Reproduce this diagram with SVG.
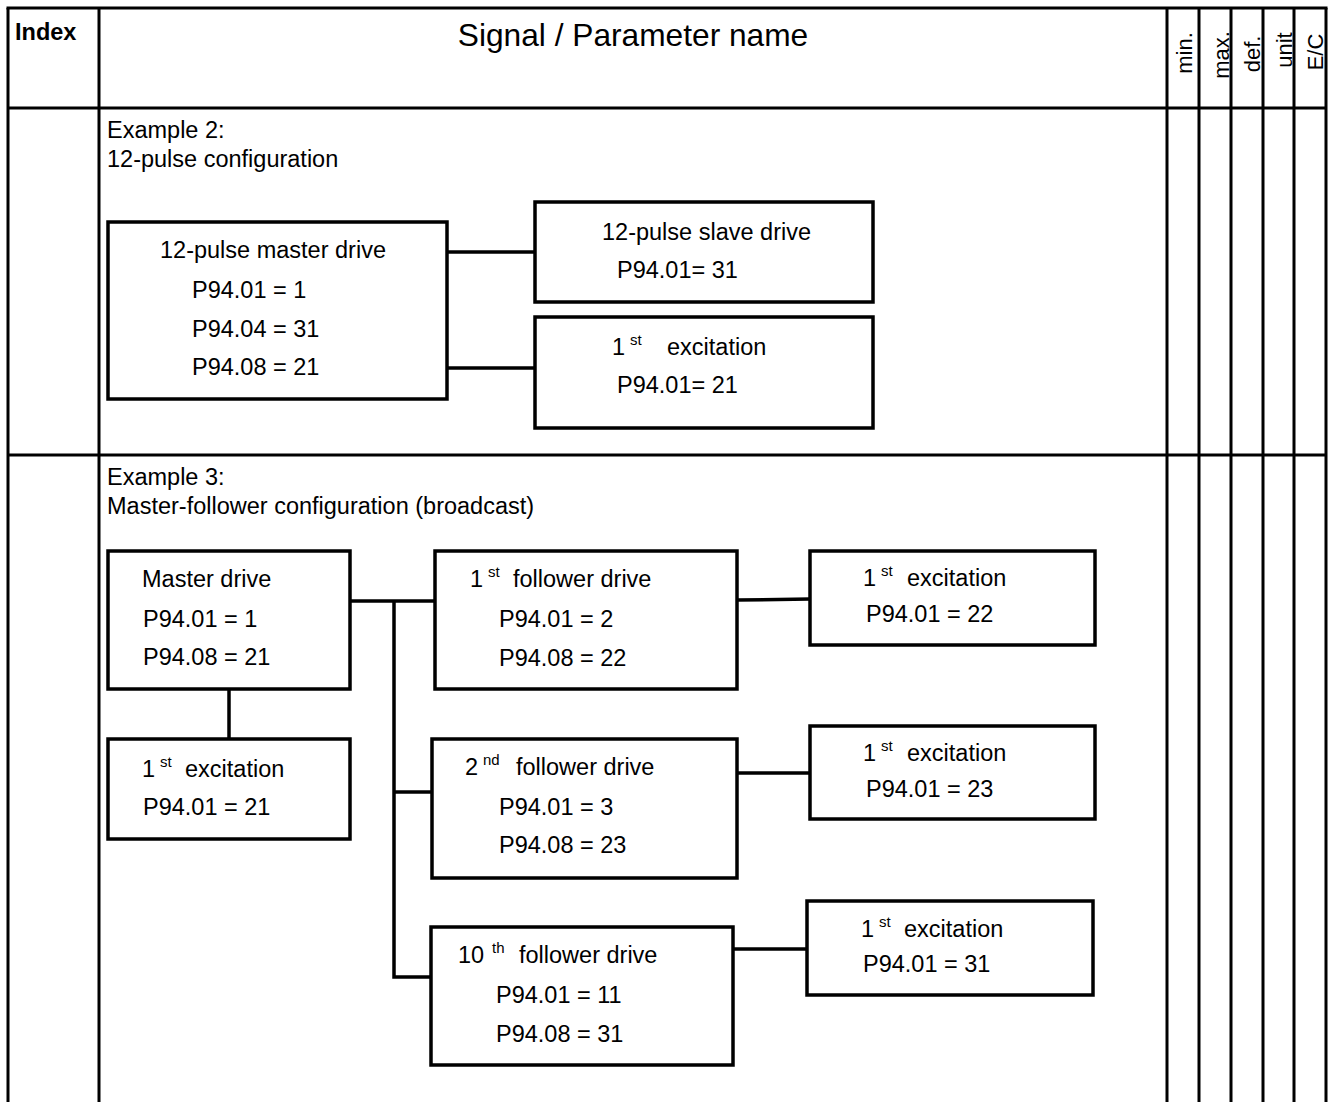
<svg xmlns="http://www.w3.org/2000/svg" width="1335" height="1102" viewBox="0 0 1335 1102">
  <style>
    text { font-family: "Liberation Sans", Arial, sans-serif; fill: #000; }
    .t { font-size: 23.5px; }
    .sup { font-size: 15px; }
    .hd { font-size: 31.7px; }
    .idx { font-size: 23.5px; font-weight: bold; }
    .rot { font-size: 22px; }
    .grid { stroke: #000; stroke-width: 3; fill: none; }
    .box { stroke: #000; stroke-width: 3.5; fill: #fff; }
    .wire { stroke: #000; stroke-width: 3.5; fill: none; }
  </style>

  <rect width="1335" height="1102" fill="#fff"/>

  <!-- table frame -->
  <g id="table" class="grid">
    <line x1="6.5" y1="8" x2="1327.5" y2="8"/>
    <line x1="8" y1="8" x2="8" y2="1102"/>
    <line x1="99" y1="8" x2="99" y2="1102"/>
    <line x1="1167" y1="8" x2="1167" y2="1102"/>
    <line x1="1199" y1="8" x2="1199" y2="1102"/>
    <line x1="1231" y1="8" x2="1231" y2="1102"/>
    <line x1="1263" y1="8" x2="1263" y2="1102"/>
    <line x1="1294" y1="8" x2="1294" y2="1102"/>
    <line x1="1326" y1="8" x2="1326" y2="1102"/>
    <line x1="8" y1="108" x2="1326" y2="108"/>
    <line x1="8" y1="455" x2="1326" y2="455"/>
  </g>

  <!-- header -->
  <g id="header">
    <text class="idx" x="15" y="40">Index</text>
    <text class="hd" x="633" y="46" text-anchor="middle">Signal / Parameter name</text>
    <text class="rot" transform="translate(1192,53) rotate(-90)" text-anchor="middle">min.</text>
    <text class="rot" transform="translate(1229,55) rotate(-90)" text-anchor="middle">max.</text>
    <text class="rot" transform="translate(1260,54) rotate(-90)" text-anchor="middle">def.</text>
    <text class="rot" transform="translate(1292,50) rotate(-90)" text-anchor="middle">unit</text>
    <text class="rot" transform="translate(1323,52) rotate(-90)" text-anchor="middle">E/C</text>
  </g>

  <!-- section captions -->
  <g id="caption-ex2">
    <text class="t" x="107" y="138">Example 2:</text>
    <text class="t" x="107" y="167">12-pulse configuration</text>
  </g>
  <g id="caption-ex3">
    <text class="t" x="107" y="485">Example 3:</text>
    <text class="t" x="107" y="514">Master-follower configuration (broadcast)</text>
  </g>

  <!-- connectors -->
  <g id="connectors" class="wire">
    <line x1="447" y1="252" x2="535" y2="252"/>
    <line x1="447" y1="368" x2="535" y2="368"/>
    <line x1="229" y1="689" x2="229" y2="739"/>
    <line x1="350" y1="601" x2="435" y2="601"/>
    <polyline points="394,601 394,977 431,977"/>
    <line x1="394" y1="792" x2="432" y2="792"/>
    <line x1="737" y1="600" x2="810" y2="599"/>
    <line x1="737" y1="773" x2="810" y2="773"/>
    <line x1="733" y1="949" x2="807" y2="949"/>
  </g>

  <!-- Example 2 nodes -->
  <g id="master12">
    <rect class="box" x="108" y="222" width="339" height="177"/>
    <text class="t" x="160" y="258">12-pulse master drive</text>
    <text class="t" x="192" y="298">P94.01 = 1</text>
    <text class="t" x="192" y="337">P94.04 = 31</text>
    <text class="t" x="192" y="375">P94.08 = 21</text>
  </g>
  <g id="slave12">
    <rect class="box" x="535" y="202" width="338" height="100"/>
    <text class="t" x="602" y="240">12-pulse slave drive</text>
    <text class="t" x="617" y="278">P94.01= 31</text>
  </g>
  <g id="exc12">
    <rect class="box" x="535" y="317" width="338" height="111"/>
    <text class="t" x="612" y="355">1<tspan class="sup" x="630" dy="-10">st</tspan><tspan x="667" dy="10">excitation</tspan></text>
    <text class="t" x="617" y="393">P94.01= 21</text>
  </g>

  <!-- Example 3 nodes -->
  <g id="master">
    <rect class="box" x="108" y="551" width="242" height="138"/>
    <text class="t" x="142" y="587">Master drive</text>
    <text class="t" x="143" y="627">P94.01 = 1</text>
    <text class="t" x="143" y="665">P94.08 = 21</text>
  </g>
  <g id="master-exc">
    <rect class="box" x="108" y="739" width="242" height="100"/>
    <text class="t" x="142" y="777">1<tspan class="sup" x="160" dy="-10">st</tspan><tspan x="185" dy="10">excitation</tspan></text>
    <text class="t" x="143" y="815">P94.01 = 21</text>
  </g>
  <g id="follower1">
    <rect class="box" x="435" y="551" width="302" height="138"/>
    <text class="t" x="470" y="587">1<tspan class="sup" x="488" dy="-10">st</tspan><tspan x="513" dy="10">follower drive</tspan></text>
    <text class="t" x="499" y="627">P94.01 = 2</text>
    <text class="t" x="499" y="666">P94.08 = 22</text>
  </g>
  <g id="follower2">
    <rect class="box" x="432" y="739" width="305" height="139"/>
    <text class="t" x="465" y="775">2<tspan class="sup" x="483" dy="-10">nd</tspan><tspan x="516" dy="10">follower drive</tspan></text>
    <text class="t" x="499" y="815">P94.01 = 3</text>
    <text class="t" x="499" y="853">P94.08 = 23</text>
  </g>
  <g id="follower10">
    <rect class="box" x="431" y="927" width="302" height="138"/>
    <text class="t" x="458" y="963">10<tspan class="sup" x="492" dy="-10">th</tspan><tspan x="519" dy="10">follower drive</tspan></text>
    <text class="t" x="496" y="1003">P94.01 = 11</text>
    <text class="t" x="496" y="1042">P94.08 = 31</text>
  </g>
  <g id="exc-f1">
    <rect class="box" x="810" y="551" width="285" height="94"/>
    <text class="t" x="863" y="586">1<tspan class="sup" x="881" dy="-10">st</tspan><tspan x="907" dy="10">excitation</tspan></text>
    <text class="t" x="866" y="622">P94.01 = 22</text>
  </g>
  <g id="exc-f2">
    <rect class="box" x="810" y="726" width="285" height="93"/>
    <text class="t" x="863" y="761">1<tspan class="sup" x="881" dy="-10">st</tspan><tspan x="907" dy="10">excitation</tspan></text>
    <text class="t" x="866" y="797">P94.01 = 23</text>
  </g>
  <g id="exc-f10">
    <rect class="box" x="807" y="901" width="286" height="94"/>
    <text class="t" x="861" y="937">1<tspan class="sup" x="879" dy="-10">st</tspan><tspan x="904" dy="10">excitation</tspan></text>
    <text class="t" x="863" y="972">P94.01 = 31</text>
  </g>
</svg>
